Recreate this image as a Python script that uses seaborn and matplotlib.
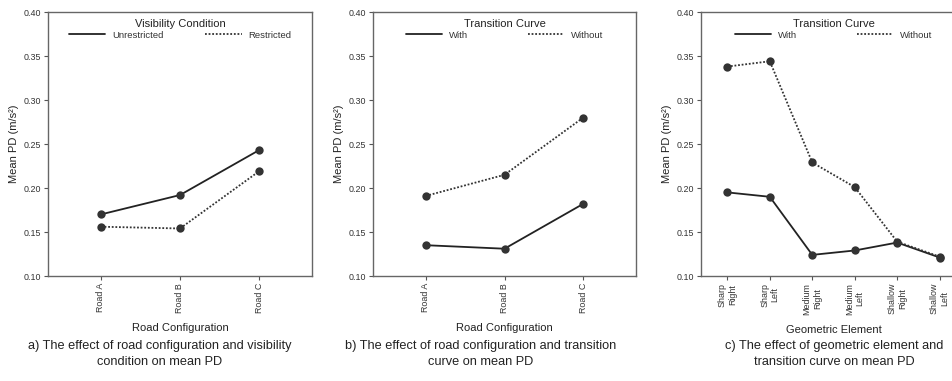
import numpy as np
import pandas as pd
import matplotlib
matplotlib.use("Agg")
import matplotlib.pyplot as plt
import seaborn as sns

# Data
roads = ["Road A", "Road B", "Road C"]
unrestricted = [0.170, 0.192, 0.243]
restricted = [0.156, 0.154, 0.219]

with_tc_road = [0.135, 0.131, 0.182]
without_tc_road = [0.191, 0.215, 0.280]

elements = ["Sharp\nRight", "Sharp\nLeft", "Medium\nRight", "Medium\nLeft",
            "Shallow\nRight", "Shallow\nLeft"]
with_tc_elem = [0.195, 0.190, 0.124, 0.129, 0.138, 0.121]
without_tc_elem = [0.338, 0.344, 0.229, 0.201, 0.139, 0.122]

captions = ["a) The effect of road configuration and visibility\ncondition on mean PD",
            "b) The effect of road configuration and transition\ncurve on mean PD",
            "c) The effect of geometric element and\ntransition curve on mean PD"]

sns.set_style("ticks")
plt.rcParams['font.family'] = ['Liberation Sans', 'DejaVu Sans']

fig = plt.figure(figsize=(9.52, 3.81), dpi=100)
W, H = 952, 381
boxes = [(48, 312), (373, 636), (701, 966)]
cap_x = [160, 481, 834]
axes = [fig.add_axes([l / W, 1 - 276 / H, (r - l) / W, 264 / H]) for l, r in boxes]

panels = [
    (roads, unrestricted, restricted, "Unrestricted", "Restricted", "Visibility Condition",
     "Road Configuration", 4.4),
    (roads, with_tc_road, without_tc_road, "With", "Without", "Transition Curve",
     "Road Configuration", 6.3),
    (elements, with_tc_elem, without_tc_elem, "With", "Without", "Transition Curve",
     "Geometric Element", 6.3),
]

for ax, (cats, s1, s2, n1, n2, ltitle, xlab, cs), cap, cx in zip(axes, panels, captions, cap_x):
    df = pd.DataFrame({
        "cat": cats + cats,
        "val": s1 + s2,
        "grp": [n1] * len(cats) + [n2] * len(cats),
    })
    sns.lineplot(data=df, x="cat", y="val", hue="grp", style="grp",
                 palette={n1: "#222222", n2: "#333333"},
                 dashes={n1: "", n2: (1, 1)}, markers={n1: "o", n2: "o"},
                 markersize=6, markeredgewidth=0, linewidth=1.3, sort=False, ax=ax)
    for ln in ax.lines:
        ln.set_markerfacecolor("#333333")
    n = len(cats)
    pad = 0.67 if n == 3 else 0.62
    ax.set_xlim(-pad, n - 1 + pad)
    ax.set_ylim(0.10, 0.40)
    yt = np.arange(0.10, 0.401, 0.05)
    ax.set_yticks(yt)
    ax.set_yticklabels([f"{v:.2f}" for v in yt])
    ax.set_xticks(range(n))
    ax.set_xticklabels(cats, rotation=90, multialignment="center")
    ax.tick_params(labelsize=6.4, colors="#555555", labelcolor="#333333", length=3,
                   width=0.8, pad=2)
    for sp in ax.spines.values():
        sp.set_color("#666666")
        sp.set_linewidth(1.0)
    ax.set_ylabel("Mean PD (m/s²)", fontsize=8, color="#222222", labelpad=3)
    ax.set_xlabel(xlab, fontsize=8, color="#222222", labelpad=7)

    h, l = ax.get_legend_handles_labels()
    for hh in h:
        hh.set_marker("")
    leg = ax.legend(h, l, title=ltitle, ncol=2, loc="upper center", frameon=False,
                    fontsize=6.8, title_fontsize=8, handlelength=3.9, handletextpad=0.7,
                    columnspacing=cs, borderaxespad=0.3, labelspacing=0.2)
    for t in leg.get_texts():
        t.set_color("#333333")
    leg.get_title().set_color("#222222")

    fig.text(cx / W, 1 - 354 / H, cap, ha="center", va="center", fontsize=9.2,
             color="#222222", linespacing=1.5)

fig.savefig("out.png", dpi=100)
